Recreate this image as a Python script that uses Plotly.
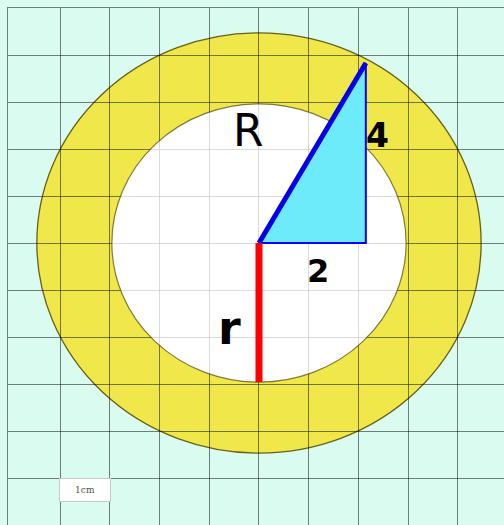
import plotly.graph_objects as go

# ---- data (grid units, centre of circles at origin) ----
grid_x = [-4, -3, -2, -1, 0, 1, 2, 3, 4]
grid_y = [-5, -4, -3, -2, -1, 0, 1, 2, 3, 4]
outer_radius = 4.47      # R
inner_radius = 2.96      # r
tri_base = 2.15          # labelled "2"
tri_height = 3.83        # labelled "4"
label_texts = ["R", "4", "2", "r"]
label_x = [-0.22, 2.39, 1.19, -0.60]
label_y = [2.40, 2.28, -0.60, -1.80]
scale_text = "1cm"

BG = "rgb(218,252,240)"
YELLOW = "rgb(240,232,74)"
GRID = "rgba(0,0,0,0.5)"

fig = go.Figure()

# triangle (filled)
fig.add_trace(go.Scatter(
    x=[0, tri_base, tri_base, 0], y=[0, 0, tri_height, 0],
    mode="lines", fill="toself", fillcolor="rgb(110,235,250)",
    line=dict(color="rgb(0,0,255)", width=2), hoverinfo="skip"))
# hypotenuse R
fig.add_trace(go.Scatter(
    x=[0, tri_base], y=[0, tri_height], mode="lines",
    line=dict(color="rgb(0,0,230)", width=5), hoverinfo="skip"))
# radius r
fig.add_trace(go.Scatter(
    x=[0, 0], y=[0, -inner_radius], mode="lines",
    line=dict(color="rgb(255,0,0)", width=7), hoverinfo="skip"))

# annulus
fig.add_shape(type="circle", xref="x", yref="y",
              x0=-outer_radius, x1=outer_radius, y0=-outer_radius, y1=outer_radius,
              fillcolor=YELLOW, line=dict(color="rgba(80,70,0,0.85)", width=1.3),
              layer="below")
fig.add_shape(type="circle", xref="x", yref="y",
              x0=-inner_radius, x1=inner_radius, y0=-inner_radius, y1=inner_radius,
              fillcolor="rgba(255,255,255,0.72)", line=dict(color="rgba(80,70,0,0.7)", width=1.2),
              layer="between")
fig.add_shape(type="circle", xref="x", yref="y",
              x0=-inner_radius, x1=inner_radius, y0=-inner_radius, y1=inner_radius,
              fillcolor="rgba(255,255,255,1)", line=dict(width=0),
              layer="below")

# labels
for t, xx, yy in zip(label_texts, label_x, label_y):
    bold = t in ("4", "2", "r")
    size = {"R": 44, "4": 33, "2": 32, "r": 46}[t]
    fig.add_annotation(x=xx, y=yy, text=f"<b>{t}</b>" if bold else t, showarrow=False,
                       font=dict(family="DejaVu Sans", size=size, color="black"))

fig.add_annotation(x=-3.5, y=-5.26, text=scale_text, showarrow=False,
                   bgcolor="white", bordercolor="rgb(200,200,200)", borderwidth=1,
                   width=48, height=20, font=dict(family="DejaVu Serif", size=9, color="rgb(80,80,80)"))

fig.update_layout(
    width=504, height=525,
    margin=dict(l=8, r=0, t=8, b=0),
    paper_bgcolor=BG, plot_bgcolor=BG,
    showlegend=False,
    xaxis=dict(range=[-5.05, 4.93], tickvals=grid_x, showticklabels=False, ticks="",
               showgrid=True, gridcolor=GRID, gridwidth=1, zeroline=False,
               showline=True, linecolor=GRID, linewidth=1, side="top", fixedrange=True),
    yaxis=dict(range=[-6.0, 5.0], tickvals=grid_y, showticklabels=False, ticks="",
               showgrid=True, gridcolor=GRID, gridwidth=1, zeroline=False,
               showline=True, linecolor=GRID, linewidth=1, fixedrange=True),
)

fig.write_html("out.html", config={"displayModeBar": False},
               post_script="document.body.style.margin='0';document.body.style.overflow='hidden';")
